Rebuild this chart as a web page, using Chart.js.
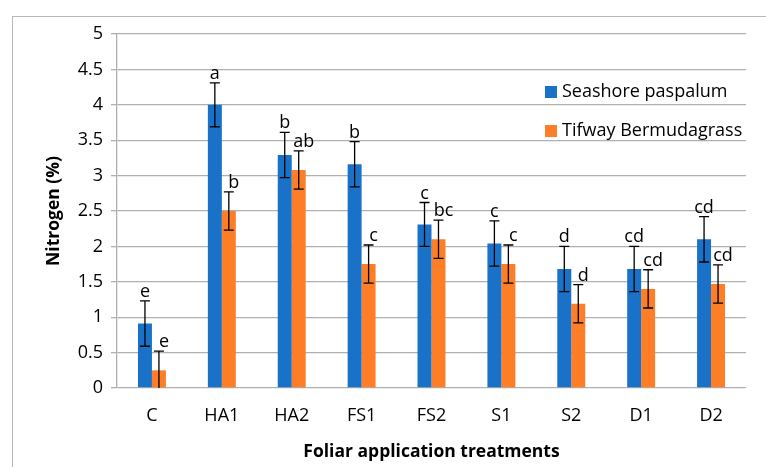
<!DOCTYPE html>
<html>
<head>
<meta charset="utf-8">
<script src="https://cdn.jsdelivr.net/npm/chart.js@4/dist/chart.umd.min.js"></script>
<style>
  html, body { margin: 0; padding: 0; background: #fff; }
  #wrap { width: 766px; height: 467px; }
</style>
</head>
<body>
<div id="wrap"><canvas id="chart" width="766" height="467"></canvas></div>
<script>
var categories = ['C', 'HA1', 'HA2', 'FS1', 'FS2', 'S1', 'S2', 'D1', 'D2'];
var seashore = [0.91, 4.0, 3.29, 3.16, 2.31, 2.04, 1.68, 1.68, 2.10];
var seashoreErr = [0.32, 0.31, 0.32, 0.32, 0.31, 0.32, 0.32, 0.32, 0.32];
var seashoreLetters = ['e', 'a', 'b', 'b', 'c', 'c', 'd', 'cd', 'cd'];
var tifway = [0.25, 2.50, 3.08, 1.75, 2.10, 1.75, 1.19, 1.40, 1.47];
var tifwayErr = [0.27, 0.27, 0.27, 0.27, 0.27, 0.27, 0.27, 0.27, 0.27];
var tifwayLetters = ['e', 'b', 'ab', 'c', 'bc', 'c', 'd', 'cd', 'cd'];

var FONT = '"Open Sans"';
var errs = [seashoreErr, tifwayErr];
var letters = [seashoreLetters, tifwayLetters];

// frame round the whole chart (clipped by the canvas on right/bottom)
var framePlugin = {
    id: 'frame',
    beforeDraw: function(chart) {
        var ctx = chart.ctx;
        ctx.save();
        ctx.strokeStyle = '#b8b8b8';
        ctx.lineWidth = 1;
        ctx.strokeRect(12.5, 16.5, 800, 500);
        ctx.restore();
    }
};

// error bars + letters above them
var errorPlugin = {
    id: 'errors',
    afterDatasetsDraw: function(chart) {
        var ctx = chart.ctx;
        var y = chart.scales.y;
        ctx.save();
        chart.data.datasets.forEach(function(ds, i) {
            var meta = chart.getDatasetMeta(i);
            meta.data.forEach(function(bar, j) {
                var v = ds.data[j], e = errs[i][j];
                var top = y.getPixelForValue(v + e);
                var low = Math.max(v - e, 0);
                var bot = y.getPixelForValue(low);
                ctx.strokeStyle = '#000';
                ctx.lineWidth = 1.3;
                ctx.beginPath();
                ctx.moveTo(bar.x, top);
                ctx.lineTo(bar.x, bot);
                ctx.moveTo(bar.x - 5, top);
                ctx.lineTo(bar.x + 5, top);
                if (low > 0) {
                    ctx.moveTo(bar.x - 5, bot);
                    ctx.lineTo(bar.x + 5, bot);
                }
                ctx.stroke();
                ctx.fillStyle = '#000';
                ctx.font = '18px ' + FONT;
                ctx.textAlign = 'center';
                ctx.textBaseline = 'alphabetic';
                ctx.fillText(letters[i][j], bar.x + (i === 1 ? 5 : 0), top - 4);
            });
        });
        ctx.restore();
    }
};

// legend drawn inside the plot area, top right
var legendPlugin = {
    id: 'insideLegend',
    afterDraw: function(chart) {
        var ctx = chart.ctx;
        ctx.save();
        ctx.font = '18px ' + FONT;
        ctx.textBaseline = 'middle';
        ctx.textAlign = 'left';
        var rows = [92, 131];
        chart.data.datasets.forEach(function(ds, i) {
            ctx.fillStyle = ds.backgroundColor;
            ctx.fillRect(545, rows[i] - 6, 12, 12);
            ctx.fillStyle = '#000';
            ctx.fillText(ds.label, 562, rows[i]);
        });
        ctx.restore();
    }
};

var ctx = document.getElementById('chart').getContext('2d');
var myChart = new Chart(ctx, {
    type: 'bar',
    data: {
        labels: categories,
        datasets: [{
            label: 'Seashore paspalum',
            data: seashore,
            backgroundColor: '#1a72c8',
            borderWidth: 0,
            barPercentage: 1,
            categoryPercentage: 0.4
        }, {
            label: 'Tifway Bermudagrass',
            data: tifway,
            backgroundColor: '#fd7e27',
            borderWidth: 0,
            barPercentage: 1,
            categoryPercentage: 0.4
        }]
    },
    options: {
        responsive: false,
        animation: false,
        layout: { padding: { left: 0, right: 20, top: 34, bottom: 0 } },
        plugins: {
            legend: { display: false },
            tooltip: { enabled: false }
        },
        scales: {
            x: {
                grid: { display: false, drawTicks: false },
                border: { display: false },
                ticks: { color: '#000', font: { family: FONT, size: 18 }, padding: 17 },
                title: {
                    display: true,
                    text: 'Foliar application treatments',
                    color: '#000',
                    font: { family: FONT, size: 17.5, weight: 'bold' },
                    padding: { top: 7 }
                },
                afterFit: function(scale) { scale.height = 79; }
            },
            y: {
                min: 0,
                max: 5,
                ticks: {
                    stepSize: 0.5,
                    color: '#000',
                    font: { family: FONT, size: 18 },
                    padding: 8,
                    callback: function(value) { return String(Math.round(value * 10) / 10); }
                },
                grid: { color: '#b0b0b0', lineWidth: 1.3, tickLength: 6 },
                border: { color: '#b0b0b0', width: 1.3 },
                title: {
                    display: true,
                    text: 'Nitrogen (%)',
                    color: '#000',
                    font: { family: FONT, size: 17.5, weight: 'bold' },
                    padding: { top: 44 }
                },
                afterFit: function(scale) { scale.width = 117; }
            }
        }
    },
    plugins: [framePlugin, errorPlugin, legendPlugin]
});
</script>
</body>
</html>
